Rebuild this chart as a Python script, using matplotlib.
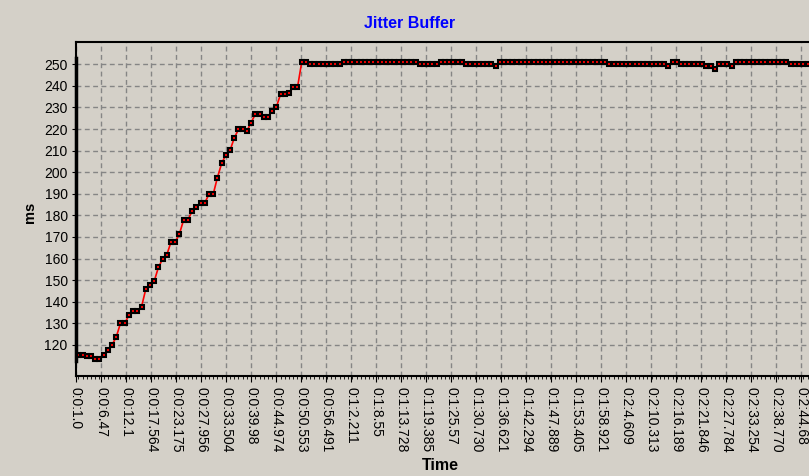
import matplotlib
matplotlib.use("Agg")
import matplotlib.pyplot as plt
import numpy as np

# jitter buffer depth (ms), one value per sample
rise = [115.5, 115.5, 115, 115, 113.5, 113.5, 115.5, 117.7, 120, 123.7,
        130, 130, 133.7, 135.7, 135.7, 137.7, 145.8, 147.7, 149.5, 155.9,
        159.8, 161.8, 167.7, 167.7, 171.5, 178, 178, 181.9, 184, 185.8,
        185.8, 189.8, 189.8, 197.5, 204.1, 208, 210.1, 215.9, 219.8, 219.8,
        219.1, 223, 226.9, 226.9, 225.6, 225.6, 228.3, 230.3, 236.2, 236.2,
        236.8, 239.3, 239.3]
# flat part as (value, count) runs
plateau = [(251, 2), (250, 8), (251, 18), (250, 5), (251, 6), (250, 7),
           (249, 1), (251, 26), (250, 14), (249, 1), (251, 2), (250, 6),
           (249.3, 2), (247.7, 1), (250, 3), (249, 1), (251, 13), (250, 5)]
values = rise + [v for v, c in plateau for _ in range(c)]

tick_labels = ["0:0:1.0", "0:0:6.47", "0:0:12.1", "0:0:17.564", "0:0:23.175",
               "0:0:27.956", "0:0:33.504", "0:0:39.98", "0:0:44.974", "0:0:50.553",
               "0:0:56.491", "0:1:2.211", "0:1:8.55", "0:1:13.728", "0:1:19.385",
               "0:1:25.57", "0:1:30.730", "0:1:36.621", "0:1:42.294", "0:1:47.889",
               "0:1:53.405", "0:1:58.921", "0:2:4.609", "0:2:10.313", "0:2:16.189",
               "0:2:21.846", "0:2:27.784", "0:2:33.254", "0:2:38.770", "0:2:44.68"]
y_ticks = list(range(120, 251, 10))

bg = "#d4d0c8"
plt.rcParams['font.family'] = ['Liberation Sans', 'DejaVu Sans']
plt.rcParams['lines.scale_dashes'] = False

fig = plt.figure(figsize=(8.09, 4.76), dpi=100, facecolor=bg)
ax = fig.add_axes([76 / 809, 100 / 476, 736 / 809, 334 / 476], facecolor=bg)

x = np.arange(len(values))
step = 25 / 4.215  # samples per labelled tick
ticks = np.arange(len(tick_labels)) * step - 0.55

ax.plot(x, values, color="red", lw=1.2, zorder=3)
ax.plot(x, values, ls="none", marker="s", ms=3.2, mew=1.5, mfc="red", mec="black", zorder=4)

ax.set_xlim(-0.55, 736 / 4.215 - 0.55)
ax.set_ylim(105.6, 260.3)
ax.set_xticks(ticks)
ax.set_xticklabels(tick_labels, rotation=270, fontsize=10)
ax.set_xticks(x, minor=True)
ax.set_yticks(y_ticks)
ax.tick_params(axis="y", labelsize=10, length=3, pad=3)
ax.tick_params(axis="x", which="major", length=4, pad=4)
ax.tick_params(axis="x", which="minor", length=2)

ax.grid(True, color="#858585", lw=1, dashes=(3.5, 2.5))
for s in ["top", "bottom", "left"]:
    ax.spines[s].set_color("black")
    ax.spines[s].set_linewidth(1.5)
ax.spines["right"].set_visible(False)

# thick axis segment covering data range
ax.plot([ax.get_xlim()[0]] * 2, [min(values) - 1, max(values) + 2],
        color="black", lw=2.5, clip_on=False, zorder=5)

fig.text(410 / 809, 1 - 24 / 476, "Jitter Buffer", color="#0000ff",
         fontweight="bold", fontsize=11.5, ha="center", va="center")
fig.text(30 / 809, 1 - 212 / 476, "ms", fontweight="bold", fontsize=10.5,
         rotation=90, ha="center", va="center")
fig.text(440 / 809, 1 - 466 / 476, "Time", fontweight="bold", fontsize=11.5,
         ha="center", va="center")

fig.savefig("out.png", dpi=100, facecolor=bg)
